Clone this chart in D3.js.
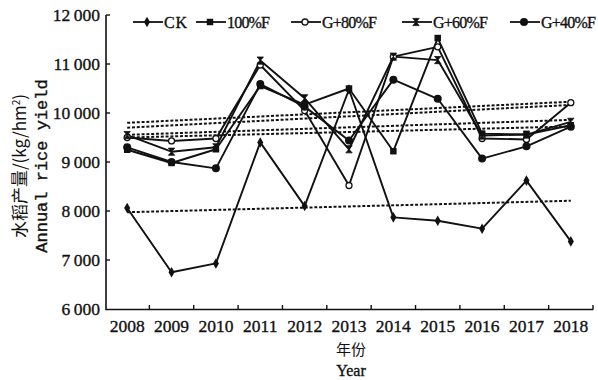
<!DOCTYPE html>
<html>
<head>
<meta charset="utf-8">
<script src="https://cdn.jsdelivr.net/npm/d3@7"></script>
<style>
  body { margin: 0; background: #fff; }
  text { fill: #111; }
  .thick { stroke: #111; stroke-width: 0.35px; }
</style>
</head>
<body>
<div id="chart"></div>
<script>
// values
var years = ['2008', '2009', '2010', '2011', '2012', '2013', '2014', '2015', '2016', '2017', '2018']
var seriesNames = ['CK', '100%F', 'G+80%F', 'G+60%F', 'G+40%F']
var ck    = [8060, 6750, 6930, 9400, 8100, 10480, 7870, 7800, 7640, 8620, 7380]
var f100  = [9250, 8980, 9260, 10550, 10170, 10500, 9220, 11530, 9580, 9560, 9750]
var g80   = [9500, 9430, 9480, 10980, 10050, 8520, 11150, 11350, 9480, 9460, 10210]
var g60   = [9550, 9210, 9300, 11070, 10300, 9260, 11150, 11080, 9540, 9560, 9820]
var g40   = [9300, 9000, 8870, 10590, 10130, 9440, 10680, 10290, 9070, 9320, 9720]
// linear trend lines, value at 2008 and at 2018
var trendStart = [7975, 9555, 9700, 9800, 9500]
var trendEnd   = [8210, 9860, 10165, 10230, 9725]
var yTicks = [6000, 7000, 8000, 9000, 10000, 11000, 12000]

var seriesValues = [ck, f100, g80, g60, g40]

var width = 598, height = 380
var svg = d3.select('#chart').append('svg')
  .attr('width', width)
  .attr('height', height)

var x = d3.scaleBand().domain(years).range([105, 593]).padding(0)
var y = d3.scaleLinear().domain([6000, 12000]).range([309, 15])
var cx = d => x(d) + x.bandwidth() / 2

var serif = '"Liberation Serif", "DejaVu Serif", serif'

// axes
var xAxis = svg.append('g')
  .attr('transform', 'translate(0,309)')
  .call(d3.axisBottom(x).tickSize(0).tickPadding(11))
xAxis.select('.domain').remove()
xAxis.selectAll('text').attr('font-family', serif).attr('font-size', 17.5).attr('class', 'thick')

var yAxis = svg.append('g')
  .attr('transform', 'translate(106,0)')
  .call(d3.axisLeft(y).tickValues(yTicks).tickSize(0).tickPadding(6)
    .tickFormat(d => d3.format(',')(d).replace(',', '\u2009')))
yAxis.select('.domain').remove()
yAxis.selectAll('text').attr('font-family', serif).attr('font-size', 17.5).attr('class', 'thick')

// axis lines and inward ticks
svg.append('path')
  .attr('d', 'M106,15 V309.5 H593.5')
  .attr('fill', 'none').attr('stroke', '#111').attr('stroke-width', 1.6)

svg.append('g').selectAll('line')
  .data(yTicks.slice(1))
  .enter().append('line')
    .attr('x1', 106).attr('x2', 110)
    .attr('y1', d => y(d)).attr('y2', d => y(d))
    .attr('stroke', '#111').attr('stroke-width', 1.4)

svg.append('g').selectAll('line')
  .data(years)
  .enter().append('line')
    .attr('x1', d => x(d) + x.bandwidth()).attr('x2', d => x(d) + x.bandwidth())
    .attr('y1', 309).attr('y2', 305)
    .attr('stroke', '#111').attr('stroke-width', 1.4)

// data lines
var line = d3.line()
  .x((d, i) => cx(years[i]))
  .y(d => y(d))

svg.append('g').selectAll('path')
  .data(seriesValues)
  .enter().append('path')
    .attr('d', d => line(d))
    .attr('fill', 'none')
    .attr('stroke', '#111')
    .attr('stroke-width', 1.9)
    .attr('stroke-linejoin', 'round')

// trend lines
svg.append('g').selectAll('line')
  .data(trendStart)
  .enter().append('line')
    .attr('x1', cx(years[0]))
    .attr('x2', cx(years[years.length - 1]))
    .attr('y1', d => y(d))
    .attr('y2', (d, i) => y(trendEnd[i]))
    .attr('stroke', '#111')
    .attr('stroke-width', 2)
    .attr('stroke-dasharray', '3,1.8')

// markers
function marker(g, k) {
  if (k === 0) {
    g.append('path').attr('d', d3.symbol(d3.symbolDiamond, 32)())
      .attr('fill', '#111')
  } else if (k === 1) {
    g.append('path').attr('d', d3.symbol(d3.symbolSquare, 42)())
      .attr('fill', '#111')
  } else if (k === 2) {
    g.append('circle').attr('r', 3)
      .attr('fill', '#fff').attr('stroke', '#111').attr('stroke-width', 1.3)
  } else if (k === 3) {
    g.append('path').attr('d', 'M-3.2,-3.6 L3.2,-3.6 L-3.2,3.6 L3.2,3.6 Z')
      .attr('fill', '#111').attr('stroke', '#111').attr('stroke-width', 0.8)
  } else {
    g.append('circle').attr('r', 4).attr('fill', '#111')
  }
}

seriesValues.forEach(function(vals, k) {
  svg.append('g').selectAll('g')
    .data(vals)
    .enter().append('g')
      .attr('transform', (d, i) => 'translate(' + cx(years[i]) + ',' + y(d) + ')')
      .each(function() { marker(d3.select(this), k) })
})

// legend
var legendX = [133, 196, 291, 402, 510]
var legend = svg.append('g')
legendX.forEach(function(lx, k) {
  var g = legend.append('g').attr('transform', 'translate(' + lx + ',22)')
  g.append('line').attr('x1', 0).attr('x2', 30).attr('y1', 0).attr('y2', 0)
    .attr('stroke', '#111').attr('stroke-width', 1.8)
  marker(g.append('g').attr('transform', 'translate(14,0)'), k)
  g.append('text')
    .attr('x', 31).attr('y', 5.5)
    .attr('class', 'thick')
    .attr('font-family', serif).attr('font-size', 16)
    .attr('textLength', k === 0 ? 23 : k === 1 ? 43 : 55)
    .text(seriesNames[k])
})

// axis titles
var yTitle = svg.append('g').attr('transform', 'translate(0,166) rotate(-90)')
yTitle.append('text')
  .attr('x', 0).attr('y', 26)
  .attr('text-anchor', 'middle')
  .attr('font-family', '"Noto Sans CJK SC", ' + serif)
  .attr('font-size', 17)
  .html('水稻产量/(kg/hm<tspan dy="-6" font-size="10">2</tspan><tspan dy="6">)</tspan>')
yTitle.append('text')
  .attr('x', 0).attr('y', 47)
  .attr('text-anchor', 'middle')
  .attr('font-family', '"Liberation Mono", "DejaVu Sans Mono", monospace')
  .attr('font-size', 17)
  .attr('class', 'thick')
  .text('Annual rice yield')

svg.append('text')
  .attr('x', 351).attr('y', 355)
  .attr('text-anchor', 'middle')
  .attr('font-family', '"Noto Sans CJK SC", sans-serif')
  .attr('font-size', 15)
  .text('年份')
svg.append('text')
  .attr('x', 351).attr('y', 376)
  .attr('text-anchor', 'middle')
  .attr('font-family', serif)
  .attr('font-size', 16)
  .attr('class', 'thick')
  .text('Year')
</script>
</body>
</html>
